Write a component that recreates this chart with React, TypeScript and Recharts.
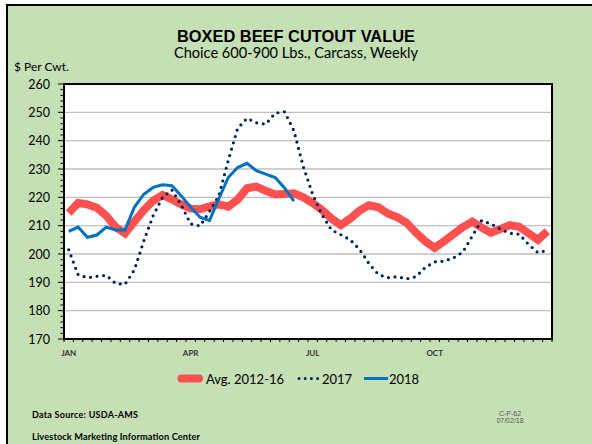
import { LineChart, Line, XAxis, YAxis, ReferenceLine, ReferenceArea } from "recharts";

// weekly values, $ per cwt
const avg2012to16 = [
  214.5, 218, 217.5, 216.3, 213.5, 209.5, 207.3, 211.5, 215.5, 218.8,
  220.8, 219.3, 217.5, 216, 215.8, 216.8, 217.5, 216.7, 219.2, 223.2,
  223.8, 222.3, 221, 221.2, 221.4, 220, 218, 215.5, 212.5, 210.2,
  212.5, 215.3, 217.2, 216.5, 214.3, 213, 211, 207.5, 204.5, 202.2,
  204.5, 207, 209.5, 211.4, 209.3, 207.5, 208.8, 210.2, 209.6, 207.3,
  205, 208,
];

const y2017 = [
  201.5, 192.7, 191.6, 192.1, 192.5, 189.6, 189.3, 194.4, 204.6, 213.5,
  220, 222.6, 217.2, 210.6, 209.9, 215, 220.5, 233, 244.3, 247.9,
  246.3, 245.8, 249.7, 250.2, 243.5, 230.8, 221, 213.8, 208.5, 206.8,
  205, 201.6, 196.6, 192.8, 191.6, 192, 191.2, 192, 195.3, 197.2,
  197.5, 198.6, 200.7, 206.3, 211.8, 210.6, 208.8, 207.3, 207, 203.4,
  200.5, 201.3,
];

const y2018 = [
  208, 209.5, 205.9, 206.7, 209.5, 208.5, 208.5, 216.5, 221.1, 223.5,
  224.4, 224.1, 220.5, 216.5, 213, 211.8, 219.5, 227, 230.5, 232,
  229.4, 228.2, 227, 223.3, 218.7,
];

// month labels sit on the week they start; tick marks fall between weeks
const monthLabels: Record<number, string> = { 1: "JAN", 14: "APR", 27: "JUL", 40: "OCT" };
const weekEdges = Array.from({ length: 53 }, (_, i) => i + 0.5);
const xTicks = [...weekEdges, 1, 14, 27, 40].sort((a, b) => a - b);
const yTicks = Array.from({ length: 46 }, (_, i) => 170 + i * 2);
const gridValues = [180, 190, 200, 210, 220, 230, 240, 250];

const data = avg2012to16.map((v, i) => ({
  week: i + 1,
  avg: v,
  y2017: y2017[i],
  y2018: y2018[i],
}));

const FONT = "Lato, 'Open Sans', sans-serif";
const ARIAL = "'Liberation Sans', Arial, sans-serif";

const YTick = ({ x, y, payload }: any) => {
  const major = payload.value % 10 === 0;
  return (
    <g>
      <line x1={x - (major ? 6 : 3.5)} x2={x} y1={y} y2={y} stroke="#000" strokeWidth={1} />
      {major && (
        <text x={x - 14} y={y + 4.5} textAnchor="end" fontSize={12.5} fontFamily={FONT} fill="#000">
          {payload.value}
        </text>
      )}
    </g>
  );
};

const XTick = ({ x, y, payload }: any) => {
  const lbl = monthLabels[payload.value];
  if (lbl) {
    return (
      <text x={x} y={y + 17} textAnchor="middle" fontSize={8} fontWeight="bold" fontFamily={FONT} fill="#333">
        {lbl}
      </text>
    );
  }
  return <line x1={x} x2={x} y1={y} y2={y + 3} stroke="#000" strokeWidth={1} />;
};

export default function App() {
  return (
    <div style={{ position: "absolute", left: 0, top: 0, width: 592, height: 444, overflow: "hidden", background: "#fff" }}>
      <div
        style={{
          position: "absolute",
          left: 6,
          top: 4,
          width: 620,
          height: 470,
          background: "#C5E0B4",
          borderTop: "2px solid #000",
          borderLeft: "2px solid #000",
        }}
      />
      <div style={{ position: "absolute", left: 0, top: 0 }}>
        <LineChart width={592} height={444} data={data} margin={{ top: 84, right: 40, left: 14, bottom: 75 }}>
          <XAxis
            dataKey="week"
            type="number"
            domain={[0.5, 52.5]}
            allowDataOverflow
            ticks={xTicks}
            interval={0}
            height={30}
            tickSize={0}
            tickMargin={0}
            tickLine={false}
            axisLine={{ stroke: "#000", strokeWidth: 2 }}
            tick={XTick}
          />
          <YAxis
            domain={[170, 260]}
            ticks={yTicks}
            interval={0}
            width={50}
            tickSize={0}
            tickMargin={0}
            tickLine={false}
            axisLine={{ stroke: "#000", strokeWidth: 2 }}
            tick={YTick}
          />
          <ReferenceArea y1={170} y2={260} fill="#fff" fillOpacity={1} stroke="none" />
          {gridValues.map((v) => (
            <ReferenceLine key={v} y={v} stroke="#BFBFBF" strokeWidth={1.3} />
          ))}
          <Line dataKey="avg" stroke="#FF5050" strokeWidth={8} dot={false} isAnimationActive={false} />
          <Line
            dataKey="y2017"
            stroke="#002060"
            strokeWidth={3.2}
            strokeDasharray="0 6.6"
            strokeLinecap="round"
            dot={false}
            isAnimationActive={false}
          />
          <Line dataKey="y2018" stroke="#0070C0" strokeWidth={3} dot={false} isAnimationActive={false} />
        </LineChart>
      </div>
      <div
        style={{
          position: "absolute",
          left: 63,
          top: 83,
          width: 486,
          height: 253,
          border: "2px solid #000",
          pointerEvents: "none",
        }}
      />
      <svg width={592} height={444} style={{ position: "absolute", left: 0, top: 0, pointerEvents: "none" }}>
        <text x={296} y={41.5} textAnchor="middle" fontSize={16.4} fontWeight="bold" fontFamily={ARIAL} fill="#000">
          BOXED BEEF CUTOUT VALUE
        </text>
        <text x={296} y={57.5} textAnchor="middle" fontSize={14.6} fontFamily={FONT} fill="#000">
          Choice 600-900 Lbs., Carcass, Weekly
        </text>
        <text x={14} y={71} fontSize={12} fontFamily={FONT} fill="#000">
          $ Per Cwt.
        </text>

        <line x1={181.5} x2={199} y1={378.5} y2={378.5} stroke="#FF5050" strokeWidth={8} strokeLinecap="round" />
        <text x={206} y={383.5} fontSize={13} fontFamily={FONT} fill="#000">
          Avg. 2012-16
        </text>
        <line x1={299} x2={318} y1={378.5} y2={378.5} stroke="#002060" strokeWidth={3} strokeDasharray="0 6.2" strokeLinecap="round" />
        <text x={322} y={383.5} fontSize={13} fontFamily={FONT} fill="#000">
          2017
        </text>
        <line x1={364} x2={388} y1={378.5} y2={378.5} stroke="#0070C0" strokeWidth={3} />
        <text x={389} y={383.5} fontSize={13} fontFamily={FONT} fill="#000">
          2018
        </text>

        <text x={32} y={418} fontSize={9} fontWeight="bold" fontFamily={FONT} fill="#000" textLength={106}>
          Data Source:  USDA-AMS
        </text>
        <text x={32} y={440} fontSize={9.2} fontWeight="bold" fontFamily={FONT} fill="#000" textLength={168}>
          Livestock Marketing Information Center
        </text>
        <text x={510} y={415.5} textAnchor="middle" fontSize={7} fontFamily={ARIAL} fill="#595959">
          C-P-62
        </text>
        <text x={510} y={422.5} textAnchor="middle" fontSize={7} fontFamily={ARIAL} fill="#595959">
          07/02/18
        </text>
      </svg>
    </div>
  );
}
